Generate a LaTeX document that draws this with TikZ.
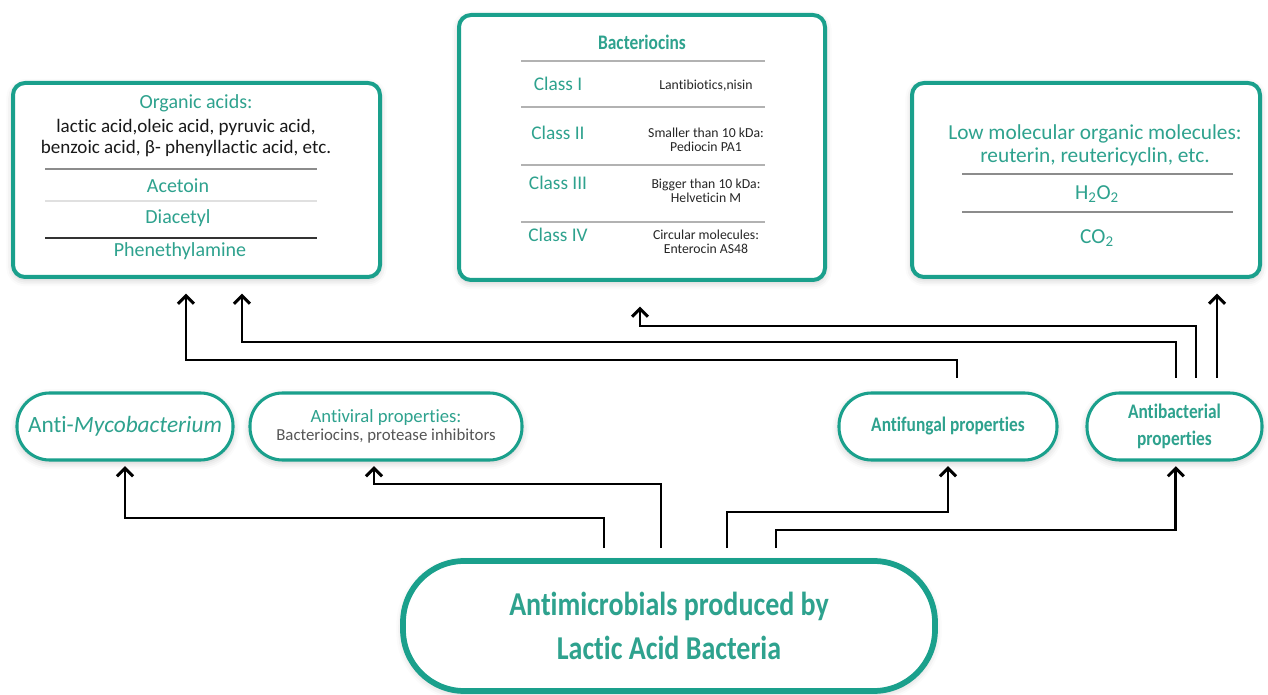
\documentclass[tikz,border=0pt]{standalone}
\usepackage{fontspec}
\setmainfont{Carlito}[Ligatures=CommonOff]
\newfontfamily\condfont[FakeStretch=0.84,Ligatures=CommonOff]{Carlito}
\usetikzlibrary{arrows.meta,shadows.blur}
\definecolor{tealline}{RGB}{26,160,140}
\definecolor{tealtxt}{RGB}{46,162,142}
\definecolor{greytxt}{RGB}{85,85,85}
\begin{document}
\begin{tikzpicture}[x=0.75pt,y=-0.75pt,
  shad/.style={blur shadow={shadow xshift=0pt,shadow yshift=-2pt,shadow blur radius=5pt,shadow opacity=22}},
  bigbox/.style={draw=tealline,line width=3pt,rounded corners=9pt,fill=white,shad,inner sep=0pt},
  pill/.style={draw=tealline,line width=2.3pt,rounded corners=24.5pt,fill=white,shad,minimum height=50.25pt,inner sep=0pt,align=center},
  tt/.style={text=tealtxt,font=\fontsize{15pt}{17pt}\selectfont,inner sep=0pt,align=center},
  blk/.style={text=black!90,font=\fontsize{14.3pt}{16pt}\selectfont,inner sep=0pt,align=center},
  cls/.style={text=tealtxt,font=\fontsize{14.5pt}{16pt}\selectfont,inner sep=0pt},
  small/.style={text=black!85,font=\fontsize{10.3pt}{10.8pt}\selectfont,inner sep=0pt,align=center},
  boldt/.style={text=tealtxt,font=\condfont\bfseries\fontsize{15.5pt}{17pt}\selectfont,inner sep=0pt,align=center},
  sep/.style={line width=0.9pt},
  arr/.style={draw=black,line width=2.2pt,-{Straight Barb[length=6pt,width=12pt]}}
]
\useasboundingbox (0,0) rectangle (1268,695);

% big boxes
\node[bigbox,minimum width=275.25pt,minimum height=145.5pt] (orgbox) at (196.5,180) {};
\node[bigbox,minimum width=274.5pt,minimum height=198.75pt] (bacbox) at (642,147.5) {};
\node[bigbox,minimum width=261pt,minimum height=145.5pt] (lowbox) at (1086,180) {};

% organic acids box
\node[tt] (oa) at (196,103) {Organic acids:};
\node[blk] (oalist) at (186,138) {lactic acid,oleic acid, pyruvic acid,\\benzoic acid, β- phenyllactic acid, etc.};
\draw[sep,black!45] (45,169) -- (317,169);
\node[tt] (acet) at (178,186) {Acetoin};
\draw[sep,black!12] (45,201) -- (317,201);
\node[tt] (diac) at (178,218) {Diacetyl};
\draw[sep,black!80] (45,238) -- (317,238);
\node[tt] (phen) at (180,251) {Phenethylamine};

% bacteriocins box
\node[boldt] (bact) at (642,42) {Bacteriocins};
\foreach \yy in {61,107,165,222} \draw[sep,black!30] (521,\yy) -- (765,\yy);
\node[cls] (c1) at (558,84) {Class I};
\node[small] (c1t) at (706,86) {Lantibiotics,nisin};
\node[cls] (c2) at (558,133) {Class II};
\node[small] (c2t) at (706,140) {Smaller than 10 kDa:\\Pediocin PA1};
\node[cls] (c3) at (558,183) {Class III};
\node[small] (c3t) at (706,191) {Bigger than 10 kDa:\\Helveticin M};
\node[cls] (c4) at (558,235) {Class IV};
\node[small] (c4t) at (706,242) {Circular molecules:\\Enterocin AS48};

% low molecular box
\node[tt,font=\fontsize{16pt}{17.3pt}\selectfont] (lm) at (1095,145) {Low molecular organic molecules:\\reuterin, reutericyclin, etc.};
\draw[sep,black!45] (962,174) -- (1233,174);
\node[tt,font=\fontsize{16pt}{17pt}\selectfont] (h2o2) at (1097,194) {H\textsubscript{2}O\textsubscript{2}};
\draw[sep,black!45] (962,212) -- (1233,212);
\node[tt,font=\fontsize{16pt}{17pt}\selectfont] (co2) at (1097,238) {CO\textsubscript{2}};

% middle pills
\node[pill,minimum width=162pt,text=tealtxt,font=\fontsize{17.5pt}{19pt}\selectfont] (myco) at (125,426.5) {Anti-\textit{Mycobacterium}};
\node[pill,minimum width=204pt] (antiviral) at (386,426.5) {{\color{tealtxt}\fontsize{14pt}{15pt}\selectfont Antiviral properties:}\\[2pt]{\color{greytxt}\fontsize{12.6pt}{13pt}\selectfont Bacteriocins, protease inhibitors}};
\node[pill,minimum width=163.5pt,boldt] (antifungal) at (948,426.5) {Antifungal properties};
\node[pill,minimum width=131.25pt,boldt,font=\condfont\bfseries\fontsize{15.5pt}{20pt}\selectfont] (antibact) at (1174.5,426.5) {Antibacterial\\properties};

% bottom pill
\node[pill,line width=4.3pt,minimum width=399pt,minimum height=97.5pt,rounded corners=46pt,text=tealtxt,font=\condfont\bfseries\fontsize{25pt}{32.5pt}\selectfont] (lab) at (669,626) {Antimicrobials produced by\\Lactic Acid Bacteria};

% connectors from bottom
\coordinate (b1) at (604,548);
\coordinate (b2) at (661,548);
\coordinate (b3) at (727,548);
\coordinate (b4) at (776,548);
\draw[arr,shorten >=3.5pt] (b1) -- (604,518) -| (myco.south);
\draw[arr,shorten >=3.5pt] (b2) -- (661,484) -| ([xshift=-9pt]antiviral.south);
\draw[arr,shorten >=3.5pt] (b3) -- (727,512) -| (antifungal.south);
\draw[arr,shorten >=3.5pt] (b4) -- (776,530) -| ([xshift=1pt]antibact.south);

% connectors to upper boxes
\coordinate (u1) at (957,378);
\coordinate (u2) at (1176,378);
\coordinate (u3) at (1196,378);
\coordinate (u4) at (1217,378);
\draw[arr,shorten >=11pt] (u1) -- (957,360) -| ([xshift=-7.9pt]orgbox.south);
\draw[arr,shorten >=11pt] (u2) -- (1176,342) -| ([xshift=34.1pt]orgbox.south);
\draw[arr,shorten >=18.5pt] (u3) -- (1196,326) -| ([xshift=-1.5pt]bacbox.south);
\draw[arr,shorten >=11pt] (u4) -- (u4 |- lowbox.south);
\end{tikzpicture}
\end{document}
